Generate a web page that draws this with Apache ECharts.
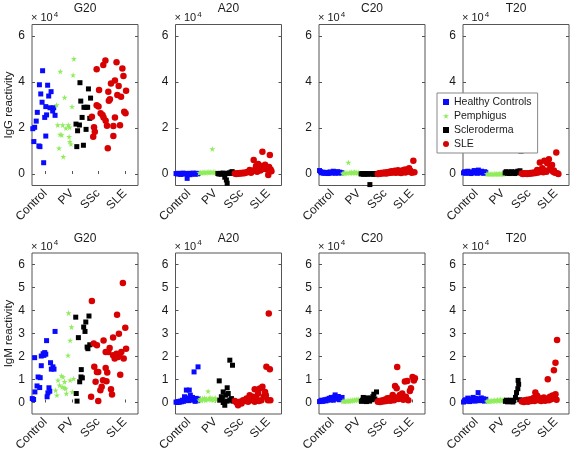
<!DOCTYPE html>
<html>
<head>
<meta charset="utf-8">
<script src="https://cdn.jsdelivr.net/npm/echarts@6/dist/echarts.min.js"></script>
<style>html,body{margin:0;padding:0;background:#fff;}#c{width:570px;height:457px;}</style>
</head>
<body>
<div id="c"></div>
<script>
// ---------- labels ----------
const categories = ['Control', 'PV', 'SSc', 'SLE'];
const groupNames = ['Healthy Controls', 'Pemphigus', 'Scleroderma', 'SLE'];
const panelTitles = ['G20', 'A20', 'C20', 'T20'];
const rowLabels = ['IgG reactivity', 'IgM reactivity'];
const yTicksTop = [0, 2, 4, 6];
const yTicksBottom = [0, 1, 2, 3, 4, 5, 6];
const yScaleLabel = '× 10';
const yScaleExp = '4';

// ---------- data: [x position, reactivity (×10^4)] ----------
// G20 IgG
const g20g_ctrl = [[0.90,4.49],[0.78,3.88],[1.09,3.86],[0.83,3.48],[1.22,3.58],[1.13,3.39],[0.88,3.12],[0.70,2.68],[1.02,2.93],[1.18,2.88],[1.32,2.88],[1.28,2.74],[1.05,2.57],[0.98,2.46],[1.37,2.55],[0.66,2.30],[0.60,2.03],[0.53,1.97],[1.02,1.65],[0.57,1.41],[0.76,1.22],[0.80,1.19],[0.94,0.49]];
const g20g_pv = [[2.08,5.01],[1.57,4.46],[2.05,4.30],[1.73,3.33],[1.43,3.00],[2.01,2.93],[1.47,2.13],[1.66,2.13],[1.87,2.13],[1.78,1.99],[1.56,1.72],[1.62,1.70],[1.90,1.62],[1.92,2.03],[1.93,1.41],[1.97,1.30],[1.52,1.12],[1.68,0.75]];
const g20g_ssc = [[2.31,3.97],[2.63,3.70],[2.71,3.30],[2.34,3.17],[2.46,2.90],[2.54,2.90],[2.60,2.90],[2.39,2.46],[2.68,2.42],[2.16,2.17],[2.29,2.13],[2.22,1.88],[2.54,1.94],[2.19,1.19],[2.44,1.25]];
const g20g_sle = [[3.27,4.93],[3.19,4.74],[2.94,4.55],[3.69,4.86],[3.91,4.59],[3.95,4.26],[3.48,3.94],[3.63,4.06],[3.77,3.83],[3.03,3.65],[3.38,3.58],[4.05,3.62],[3.72,3.43],[3.86,3.36],[3.44,3.25],[3.40,3.19],[2.94,2.99],[3.01,2.93],[3.98,2.71],[4.03,2.64],[3.09,2.64],[3.16,2.57],[2.76,2.49],[3.20,2.46],[3.28,2.32],[3.63,2.46],[3.33,2.10],[3.57,2.09],[3.82,2.12],[2.84,2.03],[2.87,1.84],[2.81,1.62],[3.57,1.65],[3.36,1.12]];
// A20 IgG
const a20g_ctrl = [[0.52,0.02],[0.57,0.0],[0.61,0.03],[0.66,0.01],[0.70,-0.02],[0.75,0.02],[0.79,0.04],[0.84,0.0],[0.88,0.02],[0.94,-0.19],[0.97,0.01],[1.01,0.03],[1.05,-0.03],[1.09,0.02],[1.13,0.0],[1.17,0.04],[1.21,0.02],[1.25,-0.01],[1.29,0.03],[1.33,0.01],[1.36,0.02]];
const a20g_pv = [[1.40,0.05],[1.45,0.07],[1.49,0.04],[1.53,0.08],[1.57,0.06],[1.61,0.09],[1.65,0.05],[1.69,0.08],[1.73,0.10],[1.77,0.06],[1.81,0.09],[1.85,0.07],[1.89,1.09],[1.92,0.10],[1.96,0.06],[2.00,0.08],[2.04,0.05]];
const a20g_ssc = [[2.10,0.02],[2.14,0.0],[2.18,0.03],[2.22,-0.01],[2.26,0.02],[2.30,0.04],[2.34,0.01],[2.36,-0.14],[2.42,-0.26],[2.45,-0.40],[2.48,0.02],[2.52,0.05],[2.56,0.03],[2.60,0.08],[2.64,0.10],[2.68,0.04]];
const a20g_sle = [[2.74,0.02],[2.79,0.0],[2.84,0.03],[2.89,0.01],[2.94,0.04],[2.99,0.02],[3.04,0.05],[3.09,0.03],[3.14,0.07],[3.18,0.06],[3.24,0.10],[3.30,0.17],[3.35,0.05],[3.40,0.12],[3.45,0.61],[3.50,0.20],[3.54,0.35],[3.58,0.10],[3.62,0.43],[3.66,0.28],[3.70,0.15],[3.72,0.35],[3.78,0.97],[3.81,0.22],[3.85,0.25],[3.88,0.40],[3.93,0.32],[3.97,0.18],[4.00,-0.04],[4.03,0.30],[4.06,0.83],[4.09,0.20],[4.12,0.12]];
// C20 IgG
const c20g_ctrl = [[0.52,0.15],[0.56,0.10],[0.60,0.05],[0.64,0.08],[0.68,0.03],[0.72,0.06],[0.76,0.04],[0.80,0.07],[0.84,0.02],[0.88,0.05],[0.92,0.09],[0.96,0.04],[1.00,0.06],[1.04,0.12],[1.08,0.08],[1.12,0.03],[1.16,0.07],[1.20,0.10],[1.24,0.05],[1.28,0.08],[1.32,0.04],[1.36,0.06]];
const c20g_pv = [[1.40,0.02],[1.44,0.05],[1.48,0.03],[1.52,0.06],[1.56,0.04],[1.61,0.50],[1.64,0.07],[1.68,0.05],[1.72,0.08],[1.76,0.04],[1.80,0.06],[1.84,0.09],[1.88,0.05],[1.92,0.07],[1.96,0.04],[2.00,0.06],[2.04,0.03]];
const c20g_ssc = [[2.09,0.0],[2.13,0.02],[2.17,-0.01],[2.21,0.01],[2.25,0.0],[2.29,0.02],[2.33,-0.01],[2.37,0.01],[2.42,-0.46],[2.46,0.0],[2.50,0.02],[2.54,-0.01],[2.58,0.01],[2.62,0.0],[2.67,0.02]];
const c20g_sle = [[2.72,0.0],[2.76,0.03],[2.80,0.01],[2.84,0.04],[2.88,0.02],[2.92,0.05],[2.96,0.03],[3.00,0.06],[3.04,0.02],[3.08,0.08],[3.12,0.04],[3.16,0.10],[3.20,0.05],[3.24,0.12],[3.28,0.06],[3.32,0.09],[3.36,0.14],[3.40,0.05],[3.44,0.10],[3.48,0.16],[3.52,0.07],[3.56,0.12],[3.60,0.04],[3.64,0.15],[3.68,0.09],[3.72,0.18],[3.76,0.06],[3.80,0.20],[3.85,0.10],[3.90,0.25],[3.95,0.14],[4.00,0.05],[4.06,0.58],[4.10,0.08]];
// T20 IgG
const t20g_ctrl = [[0.52,0.05],[0.56,0.10],[0.60,0.03],[0.64,0.08],[0.68,0.12],[0.72,0.04],[0.76,0.07],[0.80,0.02],[0.84,0.09],[0.88,0.05],[0.92,0.15],[0.96,0.06],[1.00,0.10],[1.04,0.03],[1.08,0.17],[1.12,0.08],[1.16,0.05],[1.20,0.12],[1.24,0.07],[1.28,0.03],[1.32,0.10],[1.36,0.06]];
const t20g_pv = [[1.40,0.0],[1.44,0.01],[1.48,-0.01],[1.52,0.0],[1.56,0.01],[1.60,0.0],[1.64,-0.01],[1.68,0.01],[1.72,0.0],[1.76,0.01],[1.80,-0.01],[1.84,0.0],[1.88,0.01],[1.92,0.0],[1.96,0.01],[2.00,-0.01],[2.04,0.0]];
const t20g_ssc = [[2.09,0.05],[2.13,0.10],[2.17,0.03],[2.21,0.08],[2.25,0.02],[2.29,0.06],[2.33,0.10],[2.37,0.04],[2.41,0.07],[2.45,0.02],[2.49,0.09],[2.53,0.05],[2.57,0.12],[2.61,0.06],[2.65,0.14],[2.69,1.00]];
const t20g_sle = [[2.72,0.02],[2.76,0.0],[2.80,0.03],[2.84,0.01],[2.88,0.02],[2.92,0.0],[2.96,0.03],[3.00,0.01],[3.04,0.04],[3.08,0.02],[3.12,0.05],[3.16,0.03],[3.20,0.07],[3.24,0.04],[3.28,0.10],[3.30,0.17],[3.34,0.06],[3.40,0.50],[3.44,0.12],[3.49,0.25],[3.53,0.08],[3.57,0.58],[3.61,0.15],[3.65,0.10],[3.68,0.47],[3.74,0.64],[3.78,0.20],[3.80,0.32],[3.86,0.39],[3.90,0.10],[3.93,0.15],[3.97,0.05],[4.02,0.93],[4.06,0.03],[4.10,0.0]];
// G20 IgM
const g20m_ctrl = [[1.37,3.09],[1.05,2.69],[0.60,1.95],[0.92,2.12],[0.95,2.05],[0.98,2.17],[1.02,2.10],[0.85,2.02],[1.20,1.73],[1.29,1.55],[1.33,1.45],[0.85,1.60],[1.23,1.45],[0.73,1.11],[0.81,1.08],[0.69,0.72],[0.79,0.65],[0.61,0.46],[1.14,0.64],[1.10,0.42],[1.07,0.25],[0.51,0.17],[0.56,0.13],[1.17,0.49]];
const g20m_pv = [[1.88,3.89],[1.99,3.28],[1.94,2.70],[1.86,2.05],[1.61,1.16],[1.67,1.11],[2.07,1.04],[1.94,0.97],[1.48,0.97],[1.54,0.75],[1.64,0.68],[1.71,0.64],[1.77,0.61],[1.39,0.53],[1.80,0.39],[2.02,0.46],[1.44,0.32],[1.73,0.90]];
const g20m_ssc = [[2.65,3.76],[2.15,3.71],[2.53,3.50],[2.45,3.28],[2.50,3.09],[2.25,2.82],[2.58,2.41],[2.68,2.51],[2.61,2.34],[2.36,1.43],[2.35,1.11],[2.30,0.90],[2.40,1.07],[2.17,0.39],[2.20,0.06]];
const g20m_sle = [[3.93,5.20],[2.76,4.41],[3.71,3.82],[4.02,3.25],[3.78,2.99],[2.83,2.56],[2.95,2.49],[3.20,2.70],[3.56,2.83],[4.05,2.34],[3.43,2.37],[3.28,2.20],[3.38,2.20],[3.69,2.12],[3.81,2.11],[3.87,2.20],[3.62,1.91],[3.96,1.91],[3.75,1.98],[3.56,2.05],[2.85,1.55],[3.28,1.50],[2.95,1.33],[3.00,1.33],[3.34,1.30],[3.83,1.21],[2.90,0.90],[3.18,0.97],[3.31,0.92],[3.13,0.68],[3.48,0.58],[3.08,0.53],[3.52,0.35],[2.73,0.25],[3.00,0.06]];
// A20 IgM
const a20m_ctrl = [[0.52,0.02],[0.56,0.0],[0.60,0.04],[0.64,0.01],[0.68,0.06],[0.72,0.03],[0.76,0.10],[0.80,0.05],[0.84,0.25],[0.88,0.12],[0.91,0.54],[0.95,0.20],[0.99,0.08],[1.02,0.54],[1.06,0.32],[1.10,0.15],[1.14,0.22],[1.18,0.10],[1.20,1.33],[1.24,0.05],[1.28,0.18],[1.32,0.08],[1.35,1.55],[1.37,0.15]];
const a20m_pv = [[1.40,0.10],[1.44,0.15],[1.48,0.08],[1.52,0.18],[1.56,0.12],[1.60,0.20],[1.64,0.10],[1.68,0.16],[1.73,0.49],[1.76,0.14],[1.80,0.22],[1.84,0.12],[1.88,0.18],[1.92,0.10],[1.96,0.15],[2.00,0.20],[2.04,0.12]];
const a20m_ssc = [[2.15,0.94],[2.17,0.10],[2.23,0.25],[2.27,0.17],[2.30,0.46],[2.30,0.0],[2.36,-0.12],[2.40,0.32],[2.45,0.64],[2.45,0.06],[2.49,0.39],[2.55,1.84],[2.55,0.10],[2.61,0.17],[2.65,1.62],[2.67,0.06]];
const a20m_sle = [[2.74,0.06],[2.80,0.0],[2.86,-0.12],[2.93,0.03],[2.99,-0.04],[3.05,0.10],[3.11,0.06],[3.18,0.17],[3.24,0.03],[3.30,0.32],[3.37,0.10],[3.43,0.25],[3.49,0.58],[3.49,0.03],[3.55,0.17],[3.62,0.39],[3.65,0.06],[3.68,0.61],[3.74,0.10],[3.78,0.68],[3.83,0.25],[3.88,0.46],[3.91,0.32],[3.93,1.55],[3.99,0.10],[4.02,3.87],[4.06,1.45],[4.08,0.10]];
// C20 IgM
const c20m_ctrl = [[0.52,0.04],[0.56,0.06],[0.60,0.10],[0.64,0.05],[0.68,0.08],[0.72,0.12],[0.76,0.07],[0.80,0.14],[0.84,0.10],[0.88,0.18],[0.92,0.12],[0.96,0.22],[1.00,0.16],[1.04,0.10],[1.08,0.24],[1.11,0.33],[1.15,0.20],[1.19,0.15],[1.23,0.26],[1.27,0.12],[1.31,0.20],[1.37,0.22]];
const c20m_pv = [[1.40,0.05],[1.44,0.07],[1.48,0.04],[1.52,0.08],[1.56,0.06],[1.60,0.09],[1.64,0.05],[1.68,0.10],[1.72,0.07],[1.76,0.11],[1.80,0.08],[1.84,0.12],[1.88,0.09],[1.92,0.13],[1.96,0.10],[2.00,0.14],[2.05,0.12]];
const c20m_ssc = [[2.10,0.05],[2.14,0.10],[2.17,0.22],[2.21,0.07],[2.25,0.14],[2.29,0.04],[2.33,0.20],[2.37,0.10],[2.41,0.06],[2.45,0.18],[2.49,0.12],[2.53,0.25],[2.57,0.36],[2.61,0.15],[2.67,0.46]];
const c20m_sle = [[2.72,0.03],[2.76,0.06],[2.80,0.02],[2.84,0.08],[2.88,0.04],[2.92,0.10],[2.96,0.05],[3.00,0.13],[3.04,0.07],[3.08,0.18],[3.12,0.10],[3.16,0.20],[3.20,0.08],[3.24,0.15],[3.28,0.33],[3.33,0.10],[3.37,0.72],[3.41,0.22],[3.43,0.62],[3.45,1.54],[3.50,0.15],[3.55,0.33],[3.60,0.20],[3.64,0.39],[3.68,0.12],[3.74,0.91],[3.78,0.25],[3.83,0.94],[3.87,0.10],[3.93,0.50],[3.97,0.62],[4.03,1.11],[4.08,0.96],[4.12,1.05]];
// T20 IgM
const t20m_ctrl = [[0.52,0.02],[0.56,0.08],[0.60,0.12],[0.64,0.05],[0.68,0.19],[0.72,0.10],[0.76,0.04],[0.80,0.15],[0.84,0.08],[0.88,0.22],[0.92,0.12],[0.96,0.06],[1.00,0.18],[1.04,0.10],[1.07,0.43],[1.11,0.14],[1.15,0.08],[1.19,0.20],[1.23,0.12],[1.27,0.16],[1.31,0.06],[1.36,0.14]];
const t20m_pv = [[1.40,0.05],[1.44,0.08],[1.48,0.04],[1.52,0.07],[1.56,0.10],[1.60,0.05],[1.64,0.08],[1.68,0.11],[1.72,0.06],[1.76,0.09],[1.80,0.12],[1.84,0.07],[1.88,0.10],[1.92,0.13],[1.96,0.08],[2.00,0.11],[2.05,0.14]];
const t20m_ssc = [[2.10,0.05],[2.14,0.10],[2.18,0.03],[2.22,0.08],[2.26,0.04],[2.30,0.10],[2.34,0.06],[2.38,0.02],[2.42,0.08],[2.48,0.22],[2.52,0.43],[2.57,0.60],[2.58,0.96],[2.60,0.79],[2.64,0.12]];
const t20m_sle = [[2.72,0.04],[2.76,0.08],[2.80,0.02],[2.84,0.10],[2.88,0.05],[2.92,0.12],[2.96,0.03],[3.00,0.08],[3.04,0.14],[3.08,0.06],[3.12,0.10],[3.16,0.20],[3.20,0.07],[3.23,0.43],[3.27,0.15],[3.30,0.29],[3.35,0.10],[3.40,0.18],[3.45,0.06],[3.50,0.12],[3.55,0.22],[3.60,0.08],[3.65,0.16],[3.70,1.01],[3.74,0.10],[3.78,0.25],[3.83,0.14],[3.88,0.30],[3.93,1.40],[3.96,0.20],[3.99,1.73],[3.99,0.36],[4.03,0.12],[4.05,2.72]];

// ---------- assembly ----------
const panels = [
  [[g20g_ctrl, g20g_pv, g20g_ssc, g20g_sle], [a20g_ctrl, a20g_pv, a20g_ssc, a20g_sle], [c20g_ctrl, c20g_pv, c20g_ssc, c20g_sle], [t20g_ctrl, t20g_pv, t20g_ssc, t20g_sle]],
  [[g20m_ctrl, g20m_pv, g20m_ssc, g20m_sle], [a20m_ctrl, a20m_pv, a20m_ssc, a20m_sle], [c20m_ctrl, c20m_pv, c20m_ssc, c20m_sle], [t20m_ctrl, t20m_pv, t20m_ssc, t20m_sle]]
];
const rowTicks = [yTicksTop, yTicksBottom];

const FONT = '"Liberation Sans", Arial, Helvetica, sans-serif';
const TXT = '#1a1a1a';
const AX = '#555';
const colors = ['#0a0aff', '#90ec5c', '#000000', '#d80000'];
const starPath = 'path://M50,0 L61,35 L98,35 L68,57 L79,91 L50,70 L21,91 L32,57 L2,35 L39,35 Z';
const symbols = ['rect', starPath, 'rect', 'circle'];
const symSizes = [5, 6, 5, 6.5];

const LEFTS = [32, 175.5, 319, 463];
const TOPS = [24.5, 253];
const W = 106, H = 161;

const grid = [], xAxis = [], yAxis = [], series = [], title = [], graphic = [];
for (let r = 0; r < 2; r++) {
  for (let c = 0; c < 4; c++) {
    const gi = r * 4 + c;
    grid.push({left: LEFTS[c], top: TOPS[r], width: W, height: H, show: true,
      borderColor: AX, borderWidth: 1, backgroundColor: '#fff'});
    xAxis.push({gridIndex: gi, type: 'category', data: categories, position: 'bottom',
      boundaryGap: true,
      axisLine: {show: false},
      axisTick: {show: true, inside: true, length: 3, alignWithLabel: true, lineStyle: {color: AX}},
      axisLabel: {rotate: 45, fontSize: 12, color: TXT, fontFamily: FONT, margin: 6, interval: 0},
      splitLine: {show: false}});
    xAxis.push({gridIndex: gi, type: 'value', min: 0.5, max: 4.5, show: false, position: 'bottom'});
    const ticks = rowTicks[r];
    yAxis.push({gridIndex: gi, type: 'value', min: -0.5, max: 6.5, position: 'left',
      name: c === 0 ? rowLabels[r] : '', nameLocation: 'middle', nameGap: 16,
      nameTextStyle: {fontSize: 11.5, color: TXT, fontFamily: FONT},
      axisLine: {show: false},
      axisTick: {show: true, inside: true, length: 3, customValues: ticks, lineStyle: {color: AX}},
      axisLabel: {show: true, customValues: ticks, fontSize: 12, color: TXT, fontFamily: FONT, margin: 7},
      splitLine: {show: false}});
    yAxis.push({gridIndex: gi, type: 'value', min: -0.5, max: 6.5, position: 'right',
      axisLine: {show: false},
      axisTick: {show: true, inside: true, length: 3, customValues: ticks, lineStyle: {color: AX}},
      axisLabel: {show: false}, splitLine: {show: false}});
    for (let k = 0; k < 4; k++) {
      series.push({type: 'scatter', name: groupNames[k], xAxisIndex: 2 * gi + 1, yAxisIndex: 2 * gi,
        data: panels[r][c][k], symbol: symbols[k], symbolSize: symSizes[k],
        itemStyle: {color: colors[k], opacity: 1}, silent: true, z: 3});
    }
    title.push({text: panelTitles[c], left: LEFTS[c] + W / 2, top: TOPS[r] - 22 + (r ? 2 : 0),
      textAlign: 'center',
      textStyle: {fontSize: 12, fontWeight: 'normal', color: TXT, fontFamily: FONT}, padding: 0});
    graphic.push({type: 'text', left: LEFTS[c] - 1, top: TOPS[r] - 14,
      style: {text: '{a|' + yScaleLabel + '}{b|' + yScaleExp + '}', fill: TXT,
        rich: {a: {fontSize: 11, fontFamily: FONT, fill: TXT, lineHeight: 13, verticalAlign: 'bottom'},
               b: {fontSize: 8, fontFamily: FONT, fill: TXT, lineHeight: 13, verticalAlign: 'top', padding: [0, 0, 5, 1]}}}});
  }
}

const option = {
  animation: false,
  backgroundColor: '#fff',
  textStyle: {fontFamily: FONT},
  grid, xAxis, yAxis, series, title, graphic,
  legend: {data: groupNames, orient: 'vertical', left: 437, top: 93,
    itemWidth: 6, itemHeight: 6, itemGap: 2, padding: [3, 6, 3, 6],
    borderColor: '#888', borderWidth: 1, backgroundColor: '#fff',
    textStyle: {fontSize: 10.5, color: TXT, fontFamily: FONT, lineHeight: 12},
    selectedMode: false, z: 10}
};
echarts.init(document.getElementById('c'), null, {renderer: 'canvas'}).setOption(option);
</script>
</body>
</html>
